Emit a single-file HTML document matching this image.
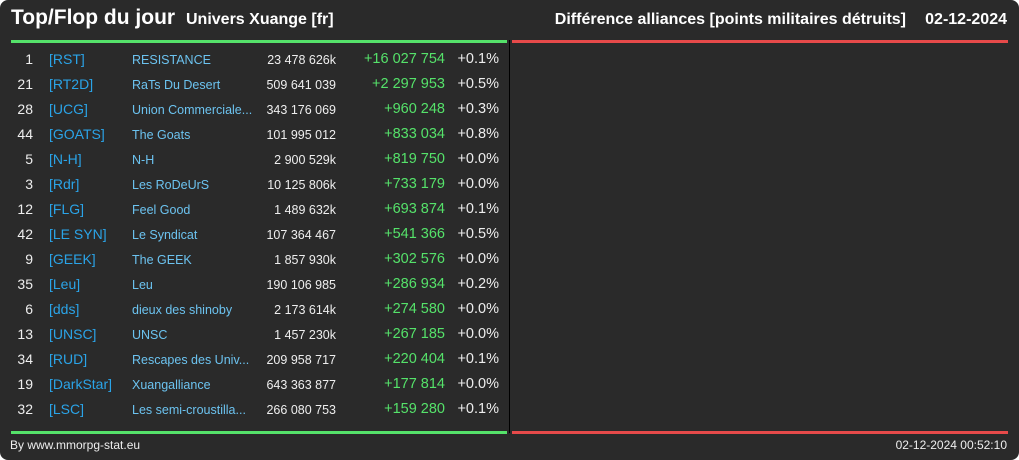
<!DOCTYPE html>
<html><head><meta charset="utf-8"><style>
body{margin:0;background:#fff;}
#root{position:relative;width:1019px;height:460px;background:#2a2a2a;border-radius:8px;overflow:hidden;font-family:"Liberation Sans",sans-serif;color:#eee;}
.a{position:absolute;white-space:nowrap;}
.r{text-align:right;}
</style></head><body>
<div id="root">
<div class="a" style="left:11px;top:6px;font-size:21px;font-weight:bold;color:#fff">Top/Flop du jour</div>
<div class="a" style="left:186px;top:11px;font-size:16px;font-weight:bold;color:#fff">Univers Xuange [fr]</div>
<div class="a" style="right:113px;top:11px;font-size:16px;font-weight:bold;color:#fff">Différence alliances [points militaires détruits]</div>
<div class="a" style="right:12px;top:11px;font-size:16px;font-weight:bold;color:#fff">02-12-2024</div>
<div class="a" style="left:11px;top:40px;width:496px;height:3px;background:#55e26a"></div>
<div class="a" style="left:512px;top:40px;width:496px;height:3px;background:#e64a4a"></div>
<div class="a" style="left:11px;top:431px;width:496px;height:3px;background:#55e26a"></div>
<div class="a" style="left:512px;top:431px;width:496px;height:3px;background:#e64a4a"></div>
<div class="a" style="left:509px;top:40px;width:1px;height:393px;background:#000"></div>
<div id="rows"></div>
<div class="a" style="left:10px;top:438px;font-size:12px;color:#eee">By www.mmorpg-stat.eu</div>
<div class="a" style="right:12px;top:438px;font-size:12px;color:#eee">02-12-2024 00:52:10</div>
</div>
<script>
const ranks=["1","21","28","44","5","3","12","42","9","35","6","13","34","19","32"];
const tags=["[RST]","[RT2D]","[UCG]","[GOATS]","[N-H]","[Rdr]","[FLG]","[LE SYN]","[GEEK]","[Leu]","[dds]","[UNSC]","[RUD]","[DarkStar]","[LSC]"];
const names=["RESISTANCE","RaTs Du Desert","Union Commerciale...","The Goats","N-H","Les RoDeUrS","Feel Good","Le Syndicat","The GEEK","Leu","dieux des shinoby","UNSC","Rescapes des Univ...","Xuangalliance","Les semi-croustilla..."];
const totals=["23 478 626k","509 641 039","343 176 069","101 995 012","2 900 529k","10 125 806k","1 489 632k","107 364 467","1 857 930k","190 106 985","2 173 614k","1 457 230k","209 958 717","643 363 877","266 080 753"];
const diffs=["+16 027 754","+2 297 953","+960 248","+833 034","+819 750","+733 179","+693 874","+541 366","+302 576","+286 934","+274 580","+267 185","+220 404","+177 814","+159 280"];
const pcts=["+0.1%","+0.5%","+0.3%","+0.8%","+0.0%","+0.0%","+0.1%","+0.5%","+0.0%","+0.2%","+0.0%","+0.0%","+0.1%","+0.0%","+0.1%"];
const rows=document.getElementById('rows');
function cell(txt,style,name){const d=document.createElement('div');d.className='a';d.style.cssText=style;d.textContent=txt;


return d;}
ranks.forEach((r,i)=>{const y=51+i*25;
const row=document.createElement('div');


row.appendChild(cell(r,`right:${1019-33}px;top:${y}px;font-size:14px;color:#eee`,'rank'));
row.appendChild(cell(tags[i],`left:49px;top:${y}px;font-size:14px;color:#2aa4e8`,'alliance-tag'));
row.appendChild(cell(names[i],`left:132px;top:${y+2}px;font-size:12.5px;color:#6cc3f0`,'alliance-name'));
row.appendChild(cell(totals[i],`right:${1019-336}px;top:${y+2}px;font-size:12.5px;color:#eee`,'total-points'));
row.appendChild(cell(diffs[i],`right:${1019-445}px;top:${y}px;font-size:14.5px;color:#55e26a`,'difference'));
row.appendChild(cell(pcts[i],`right:${1019-499}px;top:${y}px;font-size:14.5px;color:#eee`,'percent'));
rows.appendChild(row);});
</script>
</body></html>
